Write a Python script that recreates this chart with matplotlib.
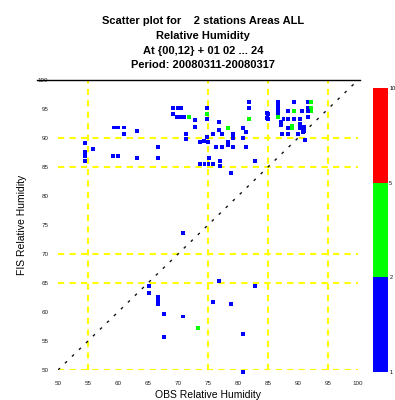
import numpy as np
import matplotlib.pyplot as plt
from matplotlib.colors import ListedColormap, BoundaryNorm

plt.rcParams['font.family'] = ['Liberation Sans', 'DejaVu Sans']

# observed / forecast relative humidity pairs and how many times each occurs
obs = [59.3, 60.0, 61.0, 61.0, 63.2, 54.5, 54.5, 54.5, 54.5, 55.8, 59.2, 60.0, 63.2, 66.7, 66.7,
       69.2, 70.0, 70.6, 69.2, 69.8, 70.5, 71.0, 71.8, 72.8, 72.8, 74.8, 74.8, 74.8, 76.8, 76.8,
       78.3, 81.8, 81.8, 81.8, 80.8, 81.3, 71.3, 71.3, 74.8, 75.8, 77.3, 79.2, 79.2, 80.8, 73.7,
       74.3, 75.0, 78.3, 78.3, 76.3, 77.3, 79.2, 81.3, 75.2, 73.7, 74.4, 75.1, 75.8, 77.0, 77.0,
       82.8, 78.8, 84.8, 84.8,
       86.7, 86.7, 89.3, 91.7, 92.2, 91.7, 92.2, 92.2, 86.7, 86.7, 86.7, 85.0, 85.0, 88.3, 89.3,
       90.7, 91.7, 91.7, 87.6, 88.3, 89.3, 90.3, 87.2, 87.2, 88.3, 89.0, 89.0, 90.3, 90.3, 91.0,
       91.0, 87.3, 88.3, 90.0, 90.8, 91.2,
       70.8, 65.2, 65.2, 66.7, 66.7, 66.7, 67.7, 70.8, 73.3, 67.7, 76.8, 75.8, 78.8, 82.8, 80.8,
       80.8]
fcs = [91.8, 91.8, 91.8, 90.7, 91.2, 89.1, 87.6, 86.9, 86.0, 88.1, 86.9, 86.9, 86.6, 88.4, 86.6,
       95.2, 95.2, 95.2, 94.1, 93.6, 93.6, 93.6, 93.6, 93.1, 91.9, 95.2, 94.1, 93.3, 92.8, 91.4,
       91.7, 96.2, 95.2, 93.3, 91.7, 91.0, 90.7, 89.8, 90.2, 90.7, 90.7, 90.7, 90.0, 90.0, 89.3,
       89.5, 89.3, 89.3, 88.8, 88.4, 88.4, 88.4, 88.4, 86.6, 85.5, 85.5, 85.5, 85.5, 86.0, 85.2,
       86.0, 84.0, 94.3, 93.4,
       96.2, 95.5, 96.2, 96.2, 96.2, 95.2, 95.2, 94.7, 94.8, 94.1, 93.6, 94.1, 93.3, 94.7, 94.7,
       94.7, 94.7, 93.6, 93.3, 93.3, 93.3, 93.3, 92.8, 92.2, 91.7, 92.1, 91.7, 92.4, 91.7, 91.9,
       91.2, 90.7, 90.7, 90.7, 91.0, 89.7,
       73.6, 64.5, 63.3, 62.6, 62.1, 61.4, 59.7, 59.2, 57.2, 55.7, 65.3, 61.7, 61.4, 64.5, 56.2,
       49.6]
cnt = [1, 1, 1, 1, 1, 1, 1, 1, 1, 1, 1, 1, 1, 1, 1,
       1, 1, 1, 1, 1, 1, 1, 2, 1, 1, 1, 2, 1, 1, 1,
       2, 1, 1, 2, 1, 1, 1, 1, 1, 1, 1, 1, 1, 1, 1,
       1, 1, 1, 1, 1, 1, 1, 1, 1, 1, 1, 1, 1, 1, 1,
       1, 1, 1, 1,
       1, 1, 1, 1, 2, 1, 2, 2, 1, 1, 2, 1, 1, 1, 2,
       1, 1, 1, 1, 1, 1, 1, 1, 1, 1, 2, 2, 1, 1, 1,
       1, 1, 1, 1, 1, 1,
       1, 1, 1, 1, 1, 1, 1, 1, 2, 1, 1, 1, 1, 1, 1,
       1]

tick_vals = [50, 55, 60, 65, 70, 75, 80, 85, 90, 95, 100]
xgrid = [55, 75, 85, 95]
ygrid = [50, 65, 70, 85, 90]
diag = [50, 100]
levels = [1, 2, 5, 10]
level_colors = ['#0000ff', '#00ff00', '#ff0000']

title = ('Scatter plot for    2 stations Areas ALL\n'
         'Relative Humidity\n'
         'At {00,12} + 01 02 ... 24\n'
         'Period: 20080311-20080317')

fig = plt.figure(figsize=(3.95, 4.0), dpi=100)
ax = fig.add_axes([0.1468, 0.075, 0.7595, 0.725])

cmap = ListedColormap(level_colors)
norm = BoundaryNorm(levels, cmap.N)

for g in xgrid:
    ax.axvline(g, color='#ffff00', lw=1.5, ls=(0, (3, 2.5)), zorder=1)
for g in ygrid:
    ax.axhline(g, color='#ffff00', lw=1.5, ls=(0, (3, 2.5)), zorder=1)

ax.plot(diag, diag, color='#111111', lw=1.0, ls=(0, (2, 5)), zorder=2)
sc = ax.scatter(obs, fcs, c=np.array(cnt) + 0.5, cmap=cmap, norm=norm,
                marker='s', s=7, linewidths=0, zorder=3, clip_on=False)

ax.set_xlim(50, 100)
ax.set_ylim(50, 100)
for side in ['left', 'right', 'bottom']:
    ax.spines[side].set_visible(False)
ax.spines['top'].set_linewidth(1.0)
ax.spines['top'].set_bounds(46.5, 100.3)

ax.set_xticks(tick_vals)
ax.set_xticklabels([str(v) for v in tick_vals])
ax.set_yticks(tick_vals)
ax.set_yticklabels([str(v) for v in tick_vals])
ax.tick_params(which='major', length=0, labelsize=4.5, colors='#222222')
ax.tick_params(axis='x', which='major', pad=8)
ax.tick_params(axis='y', which='major', pad=7)
ax.set_xticks(xgrid, minor=True)
ax.set_yticks(ygrid, minor=True)
ax.tick_params(axis='x', which='minor', top=True, bottom=True, direction='out', length=3, width=0.8)
ax.tick_params(axis='y', which='minor', left=True, right=True, direction='out', length=5, width=0.8)

ax.set_xlabel('OBS Relative Humidity', fontsize=7.5, labelpad=3)
ax.set_ylabel('FIS Relative Humidity', fontsize=7.5, labelpad=8)
fig.suptitle(title, x=0.515, y=0.96, fontsize=8, fontweight='bold', linespacing=1.6)

cax = fig.add_axes([0.944, 0.07, 0.038, 0.71])
cb = fig.colorbar(sc, cax=cax, spacing='uniform', ticks=levels)
cb.outline.set_visible(False)
cb.ax.tick_params(labelsize=4, length=0, pad=1)

fig.savefig('out.png', dpi=100)
